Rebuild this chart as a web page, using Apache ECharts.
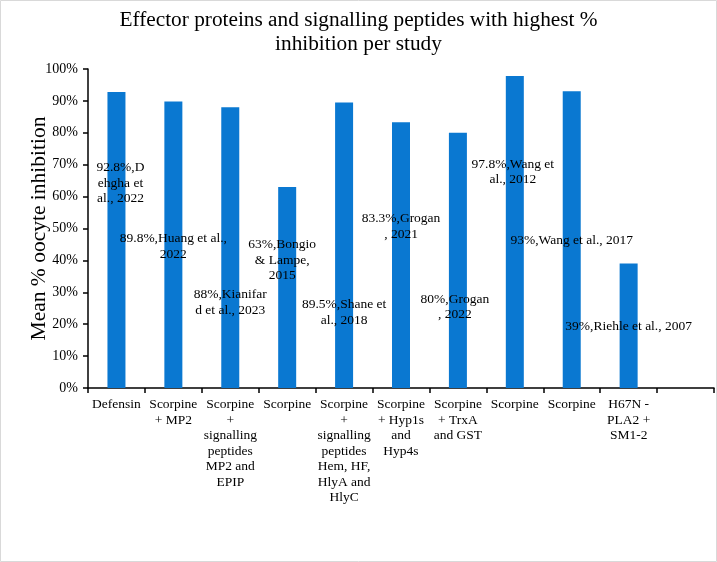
<!DOCTYPE html>
<html>
<head>
<meta charset="utf-8">
<script src="https://cdn.jsdelivr.net/npm/echarts@6/dist/echarts.min.js"></script>
<style>
html,body{margin:0;padding:0;background:#fff;}
#c{width:717px;height:562px;}
</style>
</head>
<body>
<div id="c"></div>
<script>
const titleText = 'Effector proteins and signalling peptides with highest %\ninhibition per study';
const yAxisTitle = 'Mean % oocyte inhibition';
const categories = [
  'Defensin',
  'Scorpine\n+ MP2',
  'Scorpine\n+\nsignalling\npeptides\nMP2 and\nEPIP',
  'Scorpine',
  'Scorpine\n+\nsignalling\npeptides\nHem, HF,\nHlyA and\nHlyC',
  'Scorpine\n+ Hyp1s\nand\nHyp4s',
  'Scorpine\n+ TrxA\nand GST',
  'Scorpine',
  'Scorpine',
  'H67N -\nPLA2 +\nSM1-2',
  ''
];
const values = [0.928, 0.898, 0.88, 0.63, 0.895, 0.833, 0.80, 0.978, 0.93, 0.39];
const labelTexts = [
  '92.8%,D\nehgha et\nal., 2022',
  '89.8%,Huang et al.,\n2022',
  '88%,Kianifar\nd et al., 2023',
  '63%,Bongio\n& Lampe,\n2015',
  '89.5%,Shane et\nal., 2018',
  '83.3%,Grogan\n, 2021',
  '80%,Grogan\n, 2022',
  '97.8%,Wang et\nal., 2012',
  '93%,Wang et al., 2017',
  '39%,Riehle et al., 2007'
];
const yTicks = [0, 0.1, 0.2, 0.3, 0.4, 0.5, 0.6, 0.7, 0.8, 0.9, 1.0];
// label offsets (style): pixel shift of each data label from bar top
const labelOffsets = [[4, 91], [0, 145], [0, 195], [-5, 73], [0, 210], [0, 104], [-3, 174], [-2, 96], [0, 149], [0, 63]];

const FONT = '"Liberation Serif", "Times New Roman", serif';
const chart = echarts.init(document.getElementById('c'));
chart.setOption({
  animation: false,
  backgroundColor: '#ffffff',
  title: {
    text: titleText,
    left: 'center',
    top: 3,
    textStyle: { fontFamily: FONT, fontSize: 21.3, fontWeight: 'normal', color: '#000', lineHeight: 24 }
  },
  graphic: [{
    type: 'rect',
    shape: { x: 0.5, y: 0.5, width: 716, height: 561 },
    style: { fill: 'none', stroke: '#d9d9d9', lineWidth: 1 },
    silent: true
  }],
  grid: { left: 88, right: 3, top: 69, bottom: 174, containLabel: false },
  xAxis: {
    type: 'category',
    data: categories,
    boundaryGap: true,
    axisLine: { lineStyle: { color: '#000', width: 1.5 } },
    axisTick: { show: true, alignWithLabel: false, length: 5, lineStyle: { color: '#000', width: 1.5 }, interval: 0 },
    axisLabel: {
      interval: 0,
      margin: 9,
      fontFamily: FONT,
      fontSize: 13.5,
      lineHeight: 15.5,
      color: '#000'
    }
  },
  yAxis: {
    type: 'value',
    min: 0,
    max: 1,
    interval: 0.1,
    name: yAxisTitle,
    nameLocation: 'middle',
    nameGap: 38,
    nameMoveOverlap: false,
    nameTextStyle: { fontFamily: FONT, fontSize: 21.5, color: '#000' },
    splitLine: { show: false },
    axisLine: { show: true, lineStyle: { color: '#000', width: 1.5 } },
    axisTick: { show: true, length: 5, lineStyle: { color: '#000', width: 1.5 } },
    axisLabel: {
      margin: 10,
      fontFamily: FONT,
      fontSize: 14,
      color: '#000',
      formatter: function (v) {
        const t = yTicks.find(x => Math.abs(x - v) < 1e-9);
        return Math.round((t !== undefined ? t : v) * 100) + '%';
      }
    }
  },
  series: [{
    type: 'bar',
    barWidth: 18,
    itemStyle: { color: '#0a78d1' },
    data: values.map((v, i) => ({
      value: v,
      label: {
        show: true,
        position: 'top',
        distance: 0,
        verticalAlign: 'middle',
        align: 'center',
        offset: labelOffsets[i],
        formatter: labelTexts[i],
        fontFamily: FONT,
        fontSize: 13.5,
        lineHeight: 15.5,
        color: '#000'
      }
    }))
  }]
});
</script>
</body>
</html>
